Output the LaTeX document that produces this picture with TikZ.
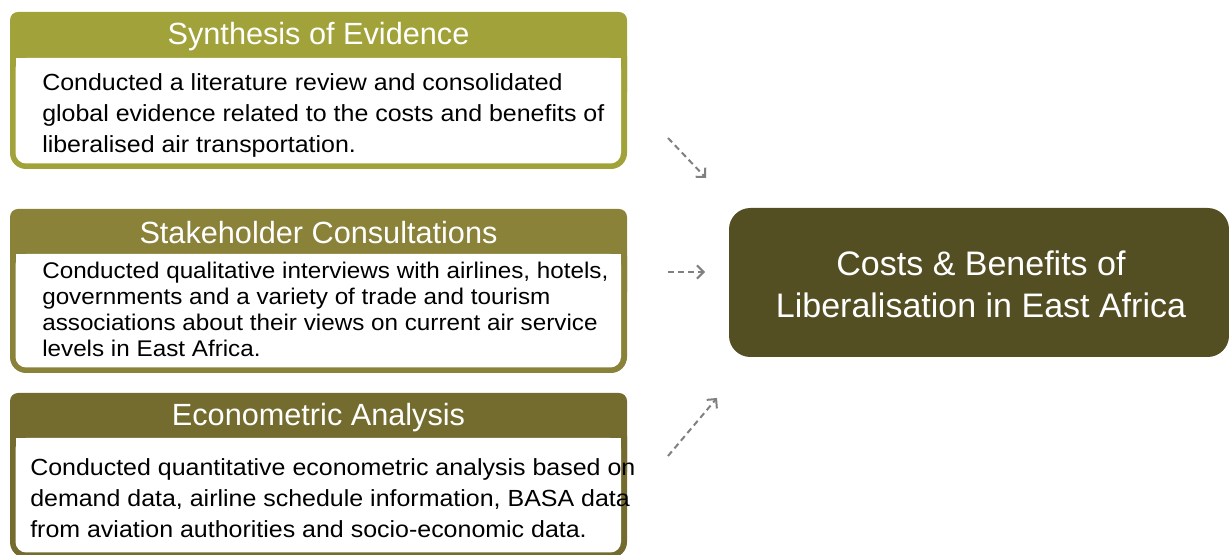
\documentclass[tikz,border=0pt]{standalone}
\usepackage{fontspec}
\setmainfont{Liberation Sans}
\newfontfamily\bodyfont[FakeStretch=1.07]{Liberation Sans}
\usetikzlibrary{arrows.meta}
\definecolor{cA}{RGB}{161,163,58}
\definecolor{cB}{RGB}{138,130,57}
\definecolor{cC}{RGB}{116,108,46}
\definecolor{cD}{RGB}{84,79,34}
\definecolor{arr}{RGB}{128,128,128}
\tikzset{
  head/.style={text=white, font=\fontsize{23}{27}\selectfont, inner sep=0pt},
  body/.style={text=black, align=left, inner sep=0pt, anchor=west},
  title/.style={text=white, align=center, inner sep=0pt, font=\fontsize{25.5}{31.5}\selectfont},
  flow/.style={draw=arr, line width=1.5pt, dash pattern=on 4.5pt off 3pt,
    -{Straight Barb[length=5pt,width=10pt,line width=1.5pt]}},
}
\begin{document}
\begin{tikzpicture}[x=0.75pt,y=-0.75pt]
\useasboundingbox (0,0) rectangle (1229,555);
\begin{scope}
\clip (0,0) rectangle (1229,555);
% box 1
\fill[cA, rounded corners=6pt] (10,12) rectangle (627,100);
\fill[cA, rounded corners=12pt] (10,40) rectangle (627,169);
\fill[white, rounded corners=8pt] (15.5,58) rectangle (621,163.5);
\fill[white] (15.5,58) rectangle (621,90);
% box 2
\fill[cB, rounded corners=6pt] (10,209) rectangle (627,300);
\fill[cB, rounded corners=12pt] (10,240) rectangle (627,373);
\fill[white, rounded corners=8pt] (15.5,254) rectangle (621,367.5);
\fill[white] (15.5,254) rectangle (621,300);
% box 3
\fill[cC, rounded corners=6pt] (10,393) rectangle (627,480);
\fill[cC, rounded corners=12pt] (10,420) rectangle (627,558);
\fill[white, rounded corners=8pt] (15.5,438) rectangle (621,552.5);
\fill[white] (15.5,438) rectangle (621,480);
% result box
\fill[cD, rounded corners=16pt] (729,208) rectangle (1229,357);
\end{scope}

\node[head] (h1) at (318.5,37) {Synthesis of Evidence};
\node[head] (h2) at (318.5,233) {Stakeholder Consultations};
\node[head] (h3) at (318.5,418) {Econometric Analysis};

\node[body, font=\bodyfont\fontsize{17.5}{23.25}\selectfont] (t1) at (42,115)
  {Conducted a literature review and consolidated\\
   global evidence related to the costs and benefits of\\
   liberalised air transportation.};
\node[body, font=\bodyfont\fontsize{17}{19.5}\selectfont] (t2) at (42,309)
  {Conducted qualitative interviews with airlines, hotels,\\
   governments and a variety of trade and tourism\\
   associations about their views on current air service\\
   levels in East Africa.};
\node[body, font=\bodyfont\fontsize{17.5}{23.25}\selectfont] (t3) at (30,498)
  {Conducted quantitative econometric analysis based on\\
   demand data, airline schedule information, BASA data\\
   from aviation authorities and socio-economic data.};

\node[title] (res) at (981,284) {Costs \& Benefits of\\Liberalisation in East Africa};

\coordinate (s1) at (668,138);
\coordinate (e1) at (706,178);
\coordinate (s2) at (668,272);
\coordinate (e2) at (705,272);
\coordinate (s3) at (668,456);
\coordinate (e3) at (717,398);
\draw[flow] (s1) -- (e1);
\draw[flow] (s2) -- (e2);
\draw[flow] (s3) -- (e3);
\end{tikzpicture}
\end{document}
